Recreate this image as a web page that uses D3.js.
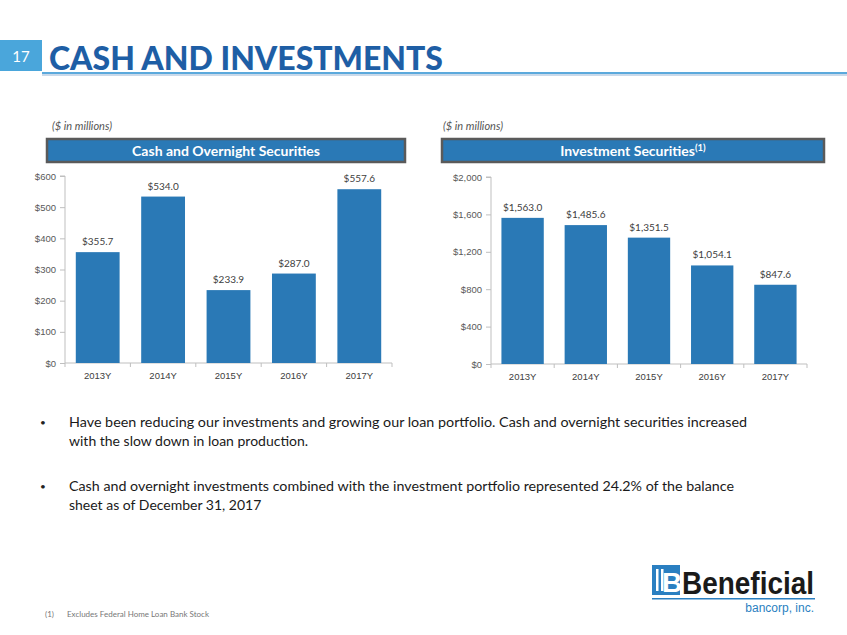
<!DOCTYPE html>
<html><head><meta charset="utf-8">
<script src="https://cdn.jsdelivr.net/npm/d3@7"></script>
<style>
html,body{margin:0;padding:0;background:#fff;}
svg{display:block;font-family:Lato,"Open Sans",sans-serif;}
</style></head>
<body><svg id="c" width="847" height="635"></svg>
<script>
const categories = ["2013Y","2014Y","2015Y","2016Y","2017Y"];
const cashValues = [355.7, 534.0, 233.9, 287.0, 557.6];
const cashTicks = [0,100,200,300,400,500,600];
const invValues = [1563.0, 1485.6, 1351.5, 1054.1, 847.6];
const invTicks = [0,400,800,1200,1600,2000];
const bullets = [
  ["Have been reducing our investments and growing our loan portfolio.  Cash and overnight securities increased","with the slow down in loan production."],
  ["Cash and overnight investments combined with the investment portfolio represented 24.2% of the balance","sheet as of December 31, 2017"]
];

const svg = d3.select("#c");
const BAR = "#2a79b6";

// Header
svg.append("rect").attr("x",0).attr("y",40).attr("width",42).attr("height",31).attr("fill","#4aa6db");
svg.append("text").attr("x",21).attr("y",62).attr("text-anchor","middle").attr("fill","#fff")
  .attr("font-size",15).text("17");
svg.append("rect").attr("x",42).attr("y",74).attr("width",805).attr("height",2).attr("fill","#c9d9ea");
svg.append("rect").attr("x",42).attr("y",72).attr("width",805).attr("height",2).attr("fill","#5ba9dc");
svg.append("text").attr("x",49).attr("y",70).attr("fill","#1e5ea5").attr("font-weight","900")
  .attr("font-size",33).attr("textLength",394).attr("lengthAdjust","spacingAndGlyphs").text("CASH AND INVESTMENTS");

function panel(o){
  const g = svg.append("g");
  g.append("text").attr("x",o.noteX).attr("y",130).attr("font-style","italic").attr("font-size",11)
    .attr("fill","#555").text("($ in millions)");
  g.append("rect").attr("x",o.boxX).attr("y",139).attr("width",o.boxW).attr("height",23)
    .attr("fill",BAR).attr("stroke","#5a5a5a").attr("stroke-width",2.5);
  const t = g.append("text").attr("x",o.boxX+o.boxW/2).attr("y",156).attr("text-anchor","middle")
    .attr("fill","#fff").attr("font-weight","bold").attr("font-size",14).text(o.title);
  if(o.sup) t.append("tspan").attr("dy",-5).attr("font-size",9.5).text(o.sup);

  const x = d3.scaleBand().domain(categories).range([o.x0,o.x1]).paddingInner(0.33).paddingOuter(0.165);
  const y = d3.scaleLinear().domain([0,o.max]).range([o.y0,o.y1]);
  const ya = g.append("g").attr("transform",`translate(${o.x0},0)`)
    .call(d3.axisLeft(y).tickValues(o.ticks).tickSize(5).tickPadding(4).tickFormat(d=>"$"+d3.format(",")(d)));
  ya.select(".domain").attr("stroke","#bfbfbf").attr("d",`M-5,${o.y1}H0V${o.y0}`);
  ya.selectAll(".tick line").attr("stroke","#bfbfbf");
  ya.selectAll("text").attr("fill","#595959").attr("font-size",9.5);
  const xa = g.append("g").attr("transform",`translate(0,${o.y0})`)
    .call(d3.axisBottom(x).tickSize(0).tickPadding(9));
  xa.select(".domain").attr("stroke","#bfbfbf").attr("d",`M${o.x0},0H${o.x1}`);
  xa.selectAll("text").attr("fill","#404040").attr("font-size",9.5);
  const step = x.step();
  g.selectAll(".xt").data(d3.range(categories.length+1)).join("line")
    .attr("x1",i=>o.x0+i*step).attr("x2",i=>o.x0+i*step).attr("y1",o.y0).attr("y2",o.y0+4).attr("stroke","#bfbfbf");
  g.selectAll(".bar").data(o.values).join("rect")
    .attr("x",(d,i)=>x(categories[i])).attr("width",x.bandwidth())
    .attr("y",d=>y(d)).attr("height",d=>o.y0-y(d)).attr("fill",BAR);
  g.selectAll(".lbl").data(o.values).join("text")
    .attr("x",(d,i)=>x(categories[i])+x.bandwidth()/2).attr("y",d=>y(d)-7)
    .attr("text-anchor","middle").attr("fill","#404040").attr("font-size",10)
    .text(d=>"$"+d3.format(",.1f")(d));
}

panel({noteX:52,boxX:47,boxW:358,title:"Cash and Overnight Securities",x0:65,x1:392,y0:363,y1:176,max:600,ticks:cashTicks,values:cashValues});
panel({noteX:443,boxX:442,boxW:382,title:"Investment Securities",sup:"(1)",x0:491,x1:807,y0:364,y1:177,max:2000,ticks:invTicks,values:invValues});

// Bullets
const by = [427, 491];
const widths = [[678,null],[665,null]];
bullets.forEach((b,i)=>{
  svg.append("text").attr("x",40).attr("y",by[i]-1).attr("font-size",10).attr("fill","#222").text("•");
  b.forEach((line,j)=>{
    const t = svg.append("text").attr("x",69).attr("y",by[i]+j*19).attr("font-size",14).attr("fill","#1a1a1a").text(line);
    if(widths[i][j]) t.attr("textLength",widths[i][j]).attr("lengthAdjust","spacingAndGlyphs");
  });
});

// Footnote
svg.append("text").attr("x",45).attr("y",617).attr("font-size",8).attr("fill","#777").text("(1)");
svg.append("text").attr("x",67).attr("y",617).attr("font-size",8).attr("fill","#777").text("Excludes Federal Home Loan Bank Stock");

// Logo
const lg = svg.append("g");
lg.append("rect").attr("x",652).attr("y",565).attr("width",28).attr("height",30).attr("fill","#2a7fc1");
[656,661].forEach(xx=>lg.append("rect").attr("x",xx).attr("y",569).attr("width",2.5).attr("height",22).attr("fill","#fff"));
lg.append("text").attr("x",672).attr("y",592).attr("text-anchor","middle").attr("fill","#fff")
  .attr("font-weight","bold").attr("font-size",28).attr("font-family","Liberation Sans Narrow,Liberation Sans").text("B");
lg.append("text").attr("x",682).attr("y",594).attr("fill","#1a1a1a").attr("font-weight","bold")
  .attr("font-size",31).attr("font-family","Liberation Sans Narrow,Liberation Sans").attr("textLength",132)
  .attr("lengthAdjust","spacingAndGlyphs").text("Beneficial");
lg.append("rect").attr("x",652).attr("y",598).attr("width",163).attr("height",1.5).attr("fill","#2a7fc1");
lg.append("text").attr("x",814).attr("y",612).attr("text-anchor","end").attr("fill","#2a7fc1")
  .attr("font-size",12).attr("font-family","Liberation Sans Narrow,Liberation Sans").text("bancorp, inc.");
</script></body></html>
